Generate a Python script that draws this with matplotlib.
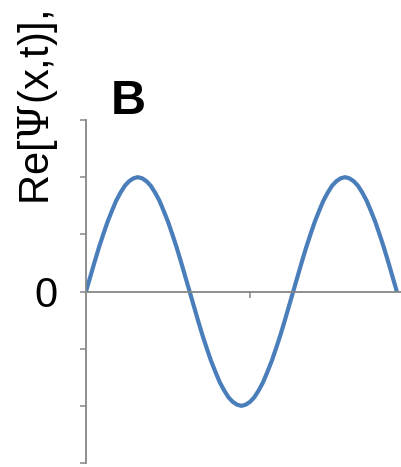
import matplotlib
matplotlib.use("Agg")
import matplotlib.pyplot as plt

# wave values, one point every 7.5 degrees of phase
step = list(range(73))
psi_re = [0, 0.26, 0.52, 0.77, 1.0, 1.22, 1.41, 1.59, 1.73, 1.85, 1.93, 1.98,
          2.0, 1.98, 1.93, 1.85, 1.73, 1.59, 1.41, 1.22, 1.0, 0.77, 0.52, 0.26,
          0, -0.26, -0.52, -0.77, -1.0, -1.22, -1.41, -1.59, -1.73, -1.85, -1.93, -1.98,
          -2.0, -1.98, -1.93, -1.85, -1.73, -1.59, -1.41, -1.22, -1.0, -0.77, -0.52, -0.26,
          0, 0.26, 0.52, 0.77, 1.0, 1.22, 1.41, 1.59, 1.73, 1.85, 1.93, 1.98,
          2.0, 1.98, 1.93, 1.85, 1.73, 1.59, 1.41, 1.22, 1.0, 0.77, 0.52, 0.26, 0]
ytick_vals = [-3, -2, -1, 0, 1, 2, 3]
ytick_text = ['', '', '', '0', '', '', '']

plt.rcParams['font.family'] = ['Liberation Sans', 'DejaVu Sans']
plt.rcParams['mathtext.fontset'] = 'dejavuserif'

W, H = 402, 467
fig = plt.figure(figsize=(W / 100, H / 100), dpi=100)
ax = fig.add_axes([86 / W, 4 / H, 1 - 86 / W, (463 - 120) / H])

ax.plot(step, psi_re, color='#4a7ebb', lw=3.0, solid_capstyle='butt')

grey = '#868686'
ax.set_ylim(-3, 3)
ax.set_xlim(0, 73.2)
ax.set_yticks(ytick_vals)
ax.set_yticklabels(ytick_text, fontsize=30)
ax.set_xticks([38])
ax.set_xticklabels([''])
for s in ['top', 'right']:
    ax.spines[s].set_visible(False)
ax.spines['bottom'].set_position(('data', 0))
ax.spines['left'].set_color(grey)
ax.spines['bottom'].set_color(grey)
ax.spines['left'].set_linewidth(1.3)
ax.spines['bottom'].set_linewidth(1.3)
ax.tick_params(axis='y', direction='out', length=4.5, width=1.1, color=grey, pad=16)
ax.tick_params(axis='x', direction='out', length=4.5, width=1.1, color=grey)

fig.text(38 / W, 1 - 108 / H, r'Re[$\mathrm{\Psi}$(x,t)],', rotation=90,
         ha='center', va='center', fontsize=30)
fig.text(128 / W, 1 - 102 / H, 'B', ha='center', va='center',
         fontsize=35, fontweight='bold')

fig.savefig('out.png', dpi=100)
